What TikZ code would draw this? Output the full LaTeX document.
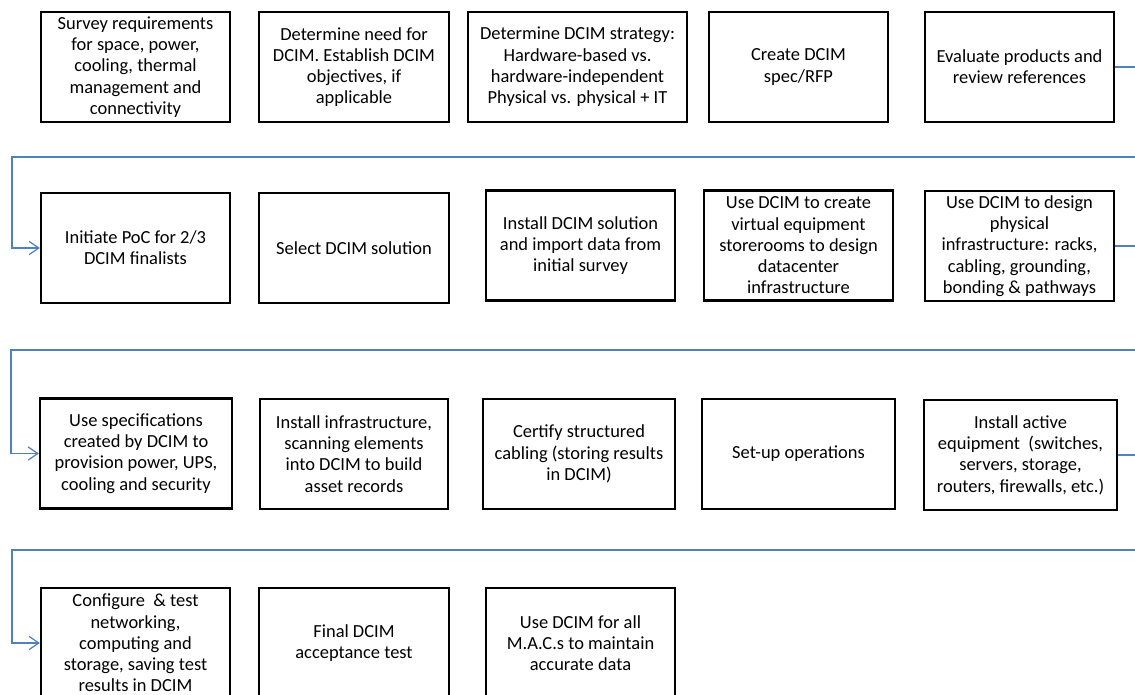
\documentclass[tikz,border=0pt]{standalone}
\usepackage{fontspec}
\setmainfont{Carlito}
\usepackage{xcolor}
\usetikzlibrary{arrows.meta}
\definecolor{linkblue}{RGB}{79,129,189}

\begin{document}
\begin{tikzpicture}[x=0.02cm,y=-0.02cm,
    stepbox/.style={draw=black,line width=1.3pt,align=center,inner xsep=2pt,inner ysep=1pt,
        minimum width=#1,minimum height=2.2cm,font=\fontsize{10.5}{12.1}\selectfont},
    link/.style={draw=linkblue,line width=0.7pt,-{Straight Barb[length=5.5pt,width=7.5pt]}}]
    \useasboundingbox (0,0) rectangle (1135,694);
    \clip (0,0) rectangle (1135,694);

    % first row
    \node[stepbox=3.78cm] (s1) at (135.5,67) {Survey requirements\\for space, power,\\cooling, thermal\\management and\\connectivity};
    \node[stepbox=3.8cm] (s2) at (354,67) {Determine need for\\DCIM. Establish DCIM\\objectives, if\\applicable};
    \node[stepbox=4.38cm] (s3) at (577.5,67) {Determine DCIM strategy:\\Hardware-based vs.\\hardware-independent\\Physical vs. physical + IT};
    \node[stepbox=3.58cm] (s4) at (798.5,67) {Create DCIM\\spec/RFP};
    \node[stepbox=3.78cm] (s5) at (1019.5,67) {Evaluate products and\\review references};

    % second row
    \node[stepbox=3.78cm] (s6) at (135.5,248) {Initiate PoC for 2/3\\DCIM finalists};
    \node[stepbox=3.8cm] (s7) at (354,248) {Select DCIM solution};
    \node[stepbox=3.78cm] (s8) at (580.5,245.5) {Install DCIM solution\\and import data from\\initial survey};
    \node[stepbox=3.78cm] (s9) at (798.5,245.5) {Use DCIM to create\\virtual equipment\\storerooms to design\\datacenter\\infrastructure};
    \node[stepbox=3.78cm] (s10) at (1019.5,246) {Use DCIM to design\\physical\\infrastructure: racks,\\cabling, grounding,\\bonding \& pathways};

    % third row
    \node[stepbox=3.84cm] (s11) at (136,453.5) {Use specifications\\created by DCIM to\\provision power, UPS,\\cooling and security};
    \node[stepbox=3.76cm] (s12) at (354,454) {Install infrastructure,\\scanning elements\\into DCIM to build\\asset records};
    \node[stepbox=3.84cm] (s13) at (579,454) {Certify structured\\cabling (storing results\\in DCIM)};
    \node[stepbox=3.86cm] (s14) at (798.5,454) {Set-up operations};
    \node[stepbox=3.86cm] (s15) at (1020.5,455) {Install active\\equipment\ \ (switches,\\servers, storage,\\routers, firewalls, etc.)};

    % fourth row
    \node[stepbox=3.78cm] (s16) at (135.5,643) {Configure\ \ \& test\\networking,\\computing and\\storage, saving test\\results in DCIM};
    \node[stepbox=3.8cm] (s17) at (354,643) {Final DCIM\\acceptance test};
    \node[stepbox=3.78cm] (s18) at (580.5,643) {Use DCIM for all\\M.A.C.s to maintain\\accurate data};

    % links between rows
    \coordinate (t1) at (1160,157);
    \coordinate (l1) at (12,157);
    \coordinate (t2) at (1160,350);
    \coordinate (l2) at (11,350);
    \coordinate (t3) at (1160,550);
    \coordinate (l3) at (12,550);
    \draw[link] (s5.east) -| (t1) -- (l1) |- (s6.west);
    \draw[link] (s10.east) -| (t2) -- (l2) |- (s11.west);
    \draw[link] (s15.east) -| (t3) -- (l3) |- (s16.west);
\end{tikzpicture}
\end{document}
